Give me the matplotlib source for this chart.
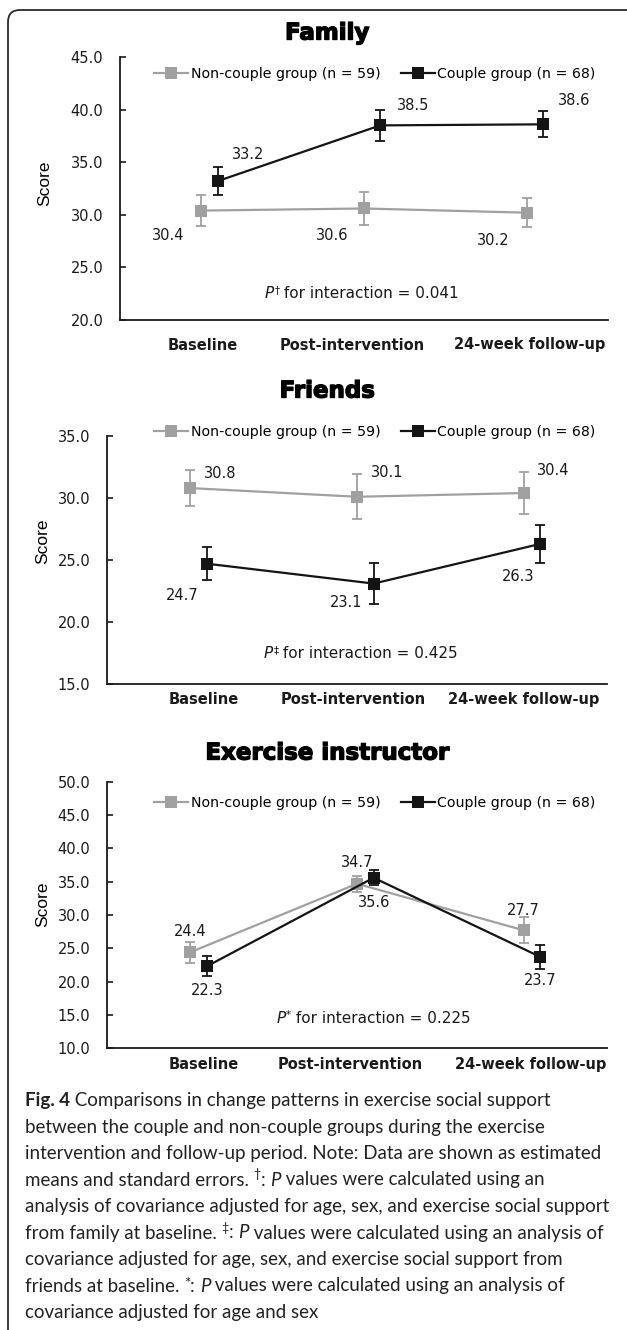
import matplotlib
matplotlib.use('Agg')
import matplotlib.pyplot as plt
import matplotlib.transforms as mtransforms
import matplotlib.patheffects as pe
from matplotlib.patches import FancyBboxPatch
import numpy as np

W, H, DPI = 627, 1330, 100

# ---- data ----
timepoints = ['Baseline', 'Post-intervention', '24-week follow-up']
series_names = ['Non-couple group (n = 59)', 'Couple group (n = 68)']

family_noncouple = [30.4, 30.6, 30.2]
family_noncouple_se = [1.5, 1.55, 1.35]
family_couple = [33.2, 38.5, 38.6]
family_couple_se = [1.35, 1.45, 1.25]

friends_noncouple = [30.8, 30.1, 30.4]
friends_noncouple_se = [1.45, 1.8, 1.7]
friends_couple = [24.7, 23.1, 26.3]
friends_couple_se = [1.35, 1.65, 1.55]

instructor_noncouple = [24.4, 34.7, 27.7]
instructor_noncouple_se = [1.6, 1.2, 1.95]
instructor_couple = [22.3, 35.6, 23.7]
instructor_couple_se = [1.5, 1.1, 1.8]

p_marks = ['\u2020', '\u2021', '*']
p_interaction = ['0.041', '0.425', '0.225']

GRAY = '#a0a0a0'
BLACK = '#141414'
CHART_FONT = ['DejaVu Sans']
CAPTION_FONT = ['Lato', 'DejaVu Sans']

plt.rcParams['font.family'] = CHART_FONT

fig = plt.figure(figsize=(W / DPI, H / DPI), dpi=DPI)
fig.patch.set_facecolor('white')
# pixel coords measured from the top-left corner
PX = mtransforms.Affine2D().scale(1, -1).translate(0, H).scale(1 / DPI) + fig.dpi_scale_trans
renderer = fig.canvas.get_renderer()


def px_rect(l, t, r, b):
    return [l / W, 1 - b / H, (r - l) / W, (b - t) / H]


def seg_width(s, **kw):
    t = fig.text(0, 0, '|' + s + '|', **kw)
    t2 = fig.text(0, 0, '||', **kw)
    w = t.get_window_extent(renderer).width - t2.get_window_extent(renderer).width
    t.remove()
    t2.remove()
    return w


def rich_text(x, y, segments, ha='left', **common):
    parts = []
    for s, over in segments:
        kw = dict(common)
        kw.update(over)
        rise = kw.pop('rise', 0)
        parts.append((s, kw, rise, seg_width(s, **kw)))
    total = sum(p[3] for p in parts)
    cx = x - total / 2 if ha == 'center' else x
    for s, kw, rise, w in parts:
        fig.text(cx, y - rise, s, transform=PX, ha='left', va='baseline', **kw)
        cx += w


# border of the figure box (only top and left visible)
border = FancyBboxPatch((8, 10), 700, 1400, boxstyle='round,pad=0,rounding_size=12',
                        transform=PX, fill=False, ec='#2a2a2a', lw=1.3)
fig.add_artist(border)

panels = [
    dict(title='Family', nc=family_noncouple, nc_se=family_noncouple_se,
         cp=family_couple, cp_se=family_couple_se, ylim=(20, 45),
         rect=(120, 57, 608, 320), title_y=33, ylabel_xy=(45, 183), legend_xy=(375, 74),
         p_xy=(362, 298), xtick_pos=[0.01, 0.93, 2.02], xpad=12.6,
         nc_off=[(-33, -25), (-32, -27), (-33, -28)], cp_off=[(31, 27), (33, 20), (31, 24)]),
    dict(title='Friends', nc=friends_noncouple, nc_se=friends_noncouple_se,
         cp=friends_couple, cp_se=friends_couple_se, ylim=(15, 35),
         rect=(107, 436, 607, 684), title_y=391, ylabel_xy=(43, 541), legend_xy=(375, 432),
         p_xy=(361, 658), xtick_pos=[0.08, 0.98, 2.0], xpad=6,
         nc_off=[(30, 15), (30, 24), (30, 23)], cp_off=[(-25, -32), (-28, -19), (-22, -33)]),
    dict(title='Exercise instructor', nc=instructor_noncouple, nc_se=instructor_noncouple_se,
         cp=instructor_couple, cp_se=instructor_couple_se, ylim=(10, 50),
         rect=(107, 782, 607, 1048), title_y=753, ylabel_xy=(43, 904), legend_xy=(375, 803),
         p_xy=(374, 1023), xtick_pos=[0.08, 0.96, 2.04], xpad=6.8,
         nc_off=[(0, 21), (0, 21), (0, 20)], cp_off=[(0, -24), (0, -25), (0, -24)]),
]

x = np.arange(len(timepoints))
shift = 0.1

for i, p in enumerate(panels):
    ax = fig.add_axes(px_rect(*p['rect']))
    ax.errorbar(x, p['nc'], yerr=p['nc_se'], fmt='none', ecolor=GRAY,
                elinewidth=1.3, capsize=3.5, capthick=1.3, zorder=2)
    ax.plot(x, p['nc'], color=GRAY, lw=1.6, marker='s', ms=8, mew=0,
            label=series_names[0], zorder=3)
    ax.errorbar(x + shift, p['cp'], yerr=p['cp_se'], fmt='none', ecolor=BLACK,
                elinewidth=1.3, capsize=3.5, capthick=1.3, zorder=4)
    ax.plot(x + shift, p['cp'], color=BLACK, lw=1.6, marker='s', ms=8, mew=0,
            label=series_names[1], zorder=5)

    for xi, v, off in zip(x, p['nc'], p['nc_off']):
        ax.annotate(f'{v:.1f}', (xi, v), xytext=off, textcoords='offset pixels',
                    ha='center', va='center', fontsize=10.5, color='#1a1a1a')
    for xi, v, off in zip(x + shift, p['cp'], p['cp_off']):
        ax.annotate(f'{v:.1f}', (xi, v), xytext=off, textcoords='offset pixels',
                    ha='center', va='center', fontsize=10.5, color='#1a1a1a')

    lo, hi = p['ylim']
    ax.set_ylim(lo, hi)
    ax.set_xlim(-0.5, 2.5)
    ax.set_yticks(np.arange(lo, hi + 0.1, 5))
    ax.yaxis.set_major_formatter(matplotlib.ticker.FormatStrFormatter('%.1f'))
    ax.tick_params(axis='y', direction='in', length=4, width=1.2, pad=12,
                   labelsize=10.5, colors='#1a1a1a')
    ax.set_xticks(p['xtick_pos'], timepoints, fontweight='bold', fontsize=10.5)
    ax.tick_params(axis='x', length=0, pad=p['xpad'], colors='#1a1a1a')
    for side in ['top', 'right']:
        ax.spines[side].set_visible(False)
    for side in ['left', 'bottom']:
        ax.spines[side].set_linewidth(1.3)
        ax.spines[side].set_color('#1a1a1a')

    ax.legend(loc='center', bbox_to_anchor=p['legend_xy'], bbox_transform=PX, ncol=2,
              frameon=False, fontsize=10.2, handlelength=2.4, handletextpad=0.2,
              columnspacing=1.4, borderpad=0, borderaxespad=0)

    fig.text(327, p['title_y'], p['title'], transform=PX, ha='center', va='center',
             fontsize=16.5, fontweight='bold', color='black',
             path_effects=[pe.Stroke(linewidth=1.0, foreground='black'), pe.Normal()])
    fig.text(*p['ylabel_xy'], 'Score', transform=PX, ha='center', va='center',
             rotation=90, fontsize=12.5, family=['Liberation Sans', 'DejaVu Sans'])

    rich_text(p['p_xy'][0], p['p_xy'][1],
              [('P', dict(style='italic')),
               (p_marks[i], dict(fontsize=7.5, rise=5)),
               (' for interaction = ' + p_interaction[i], {})],
              ha='center', fontsize=11, color='#1a1a1a')

# caption
reg = {}
bold = dict(fontweight='bold')
ital = dict(style='italic')
sup = dict(fontsize=9, rise=7)
sup_star = dict(fontsize=11, rise=3)
caption_lines = [
    [('Fig. 4', bold), (' Comparisons in change patterns in exercise social support', reg)],
    [('between the couple and non-couple groups during the exercise', reg)],
    [('intervention and follow-up period. Note: Data are shown as estimated', reg)],
    [('means and standard errors. ', reg), ('\u2020', sup), (': ', reg), ('P', ital),
     (' values were calculated using an', reg)],
    [('analysis of covariance adjusted for age, sex, and exercise social support', reg)],
    [('from family at baseline. ', reg), ('\u2021', sup), (': ', reg), ('P', ital),
     (' values were calculated using an analysis of', reg)],
    [('covariance adjusted for age, sex, and exercise social support from', reg)],
    [('friends at baseline. ', reg), ('*', sup_star), (': ', reg), ('P', ital),
     (' values were calculated using an analysis of', reg)],
    [('covariance adjusted for age and sex', reg)],
]
for k, line in enumerate(caption_lines):
    rich_text(25, 1106 + k * 26.5, line, fontsize=13.5, family=CAPTION_FONT, color='#222222')

fig.savefig('out.png', dpi=DPI, facecolor='white')
